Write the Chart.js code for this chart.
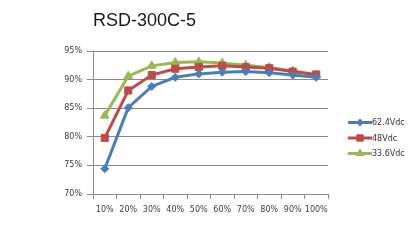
<!DOCTYPE html>
<html>
<head>
<meta charset="utf-8">
<script src="https://cdn.jsdelivr.net/npm/chart.js@4/dist/chart.umd.min.js"></script>
<style>
  html, body { margin: 0; padding: 0; background: #fff; }
  #wrap { width: 420px; height: 244px; }
</style>
</head>
<body>
<div id="wrap"><canvas id="myChart" width="420" height="244"></canvas></div>
<script>
const title = "RSD-300C-5";
const loads = ["10%", "20%", "30%", "40%", "50%", "60%", "70%", "80%", "90%", "100%"];
const seriesNames = ["62.4Vdc", "48Vdc", "33.6Vdc"];
const eff624 = [74.4, 85.1, 88.8, 90.4, 91.0, 91.3, 91.4, 91.2, 90.8, 90.4];
const eff48 = [79.8, 88.1, 90.8, 91.9, 92.2, 92.4, 92.2, 92.0, 91.4, 90.9];
const eff336 = [83.7, 90.6, 92.4, 93.0, 93.1, 92.9, 92.5, 92.1, 91.5, 90.8];

const colors = ["#4A7EBB", "#BE4B48", "#98B954"];
const markers = ["rectRot", "rect", "triangle"];
const radii = [4, 5, 5];
const legendRadii = [3.5, 4.5, 4.5];

// title and the Excel-like legend on the right are drawn by hand
const titleAndLegend = {
  id: "titleAndLegend",
  afterDraw(chart) {
    const c = chart.ctx;
    c.save();
    c.fillStyle = "#1a1a1a";
    c.font = "18px 'Liberation Sans', Arial, sans-serif";
    c.textBaseline = "middle";
    c.textAlign = "left";
    c.fillText(title, 93, 21);

    const ys = [122.5, 138, 153.5];
    chart.data.datasets.forEach((ds, i) => {
      c.strokeStyle = ds.borderColor;
      c.fillStyle = ds.borderColor;
      c.lineWidth = 3;
      c.beginPath();
      c.moveTo(348, ys[i]);
      c.lineTo(372, ys[i]);
      c.stroke();
      c.lineWidth = 1;
      Chart.helpers.drawPoint(c, {
        pointStyle: ds.pointStyle,
        radius: legendRadii[i],
        rotation: 0,
        borderWidth: 1
      }, 360, ys[i]);
      c.fillStyle = "#333";
      c.font = "8px 'DejaVu Sans', sans-serif";
      c.fillText(ds.label, 372, ys[i] + 0.5);
    });
    c.restore();
  }
};

const datasets = [eff624, eff48, eff336].map((d, i) => ({
  label: seriesNames[i],
  data: d,
  borderColor: colors[i],
  backgroundColor: colors[i],
  borderWidth: 3,
  pointStyle: markers[i],
  pointRadius: radii[i],
  pointBorderWidth: 1,
  pointBorderColor: colors[i],
  pointBackgroundColor: colors[i],
  tension: 0
}));

new Chart(document.getElementById("myChart"), {
  type: "line",
  data: { labels: loads, datasets: datasets },
  plugins: [titleAndLegend],
  options: {
    responsive: false,
    animation: false,
    devicePixelRatio: 1,
    layout: { padding: { left: 0, top: 51, right: 92, bottom: 0 } },
    plugins: {
      legend: { display: false },
      title: { display: false },
      tooltip: { enabled: false }
    },
    scales: {
      x: {
        offset: true,
        afterFit(scale) { scale.height = 50; },
        grid: {
          offset: true,
          drawOnChartArea: false,
          tickLength: 5,
          color: "#8a8a8a"
        },
        border: { color: "#8a8a8a", width: 1 },
        ticks: {
          color: "#404040",
          font: { family: "'DejaVu Sans', sans-serif", size: 8 },
          padding: 6,
          maxRotation: 0,
          autoSkip: false
        }
      },
      y: {
        min: 70,
        max: 95,
        afterFit(scale) { scale.width = 93; },
        grid: { color: "#8a8a8a", tickLength: 6 },
        border: { color: "#8a8a8a", width: 1 },
        ticks: {
          stepSize: 5,
          color: "#404040",
          font: { family: "'DejaVu Sans', sans-serif", size: 8 },
          padding: 5,
          callback: v => v + "%"
        }
      }
    }
  }
});
</script>
</body>
</html>
